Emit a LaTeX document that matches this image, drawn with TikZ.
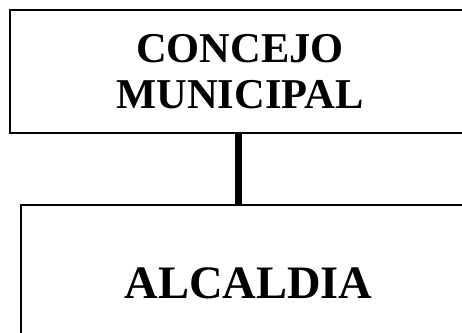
\documentclass[tikz,border=0pt]{standalone}
\usepackage{fontspec}
\setmainfont{Liberation Serif}
\usetikzlibrary{positioning}

\tikzset{
  orgbox/.style={draw, line width=2pt, rectangle, align=center, inner sep=0pt,
    font=\bfseries\fontsize{42.5}{46}\selectfont},
  orglink/.style={line width=7pt}
}

\begin{document}
\begin{tikzpicture}[x=1pt,y=1pt]
  \useasboundingbox (0,0) rectangle (462,332);
  \clip (0,0) rectangle (462,332);
  \node[orgbox, minimum width=460pt, minimum height=123pt](concejo) at (240,260.5){CONCEJO\\MUNICIPAL};
  \node[orgbox, minimum width=455pt, minimum height=157pt,
    font=\bfseries\fontsize{46.5}{50}\selectfont](alcaldia) at (248.5,48.5){ALCALDIA};
  \coordinate(link) at (238,0);
  \draw[orglink](concejo.south -| link)--(alcaldia.north -| link);
\end{tikzpicture}
\end{document}
